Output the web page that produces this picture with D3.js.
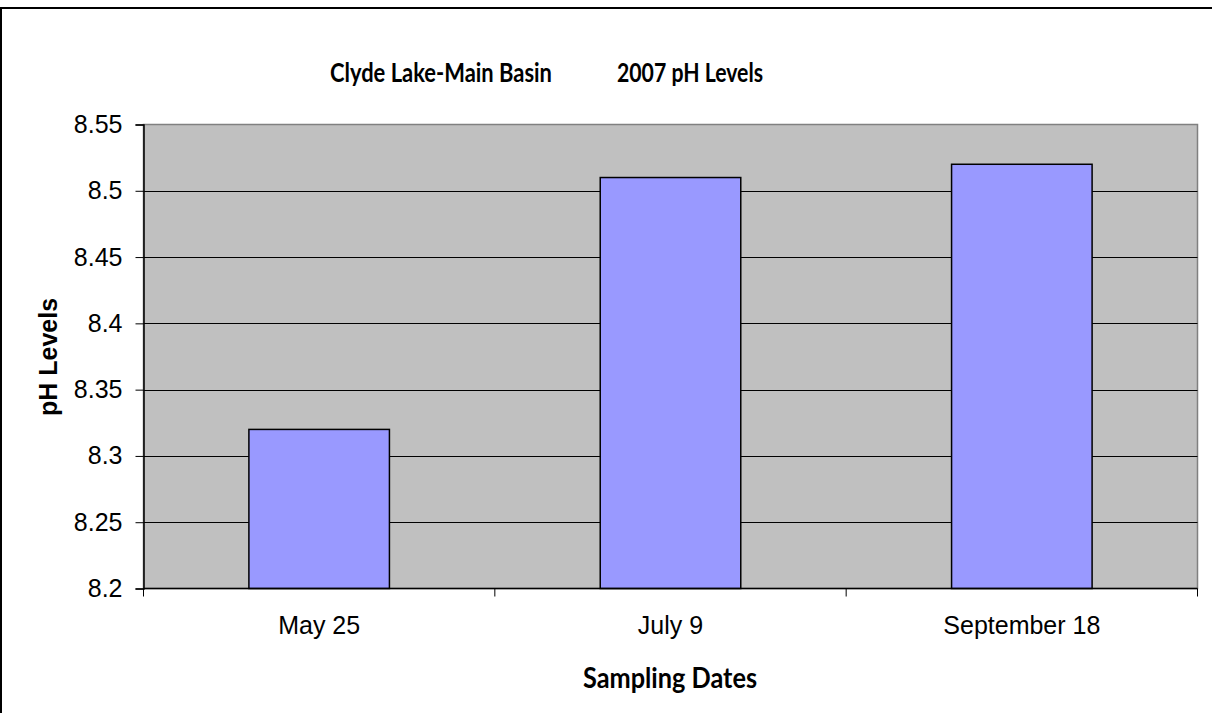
<!DOCTYPE html>
<html><head><meta charset="utf-8">
<script src="https://cdn.jsdelivr.net/npm/d3@7"></script>
<style>html,body{margin:0;padding:0;background:#fff;}svg{display:block;}</style>
</head><body>
<svg id="c" width="1212" height="713"></svg>
<script>
const categories = ["May 25", "July 9", "September 18"];
const phValues = [8.32, 8.51, 8.52];
const yTicks = [8.2, 8.25, 8.3, 8.35, 8.4, 8.45, 8.5, 8.55];
const titleLeft = "Clyde Lake-Main Basin";
const titleRight = "2007 pH Levels";
const xTitle = "Sampling Dates";
const yTitle = "pH Levels";

const svg = d3.select("#c");
const L = 143.5, R = 1197.5, T = 124.5, B = 588.5;

svg.append("rect").attr("x", 1).attr("y", 8).attr("width", 1220).attr("height", 720)
  .attr("fill", "#fff").attr("stroke", "#000").attr("stroke-width", 2);

const x = d3.scaleBand().domain(categories).range([L, R]).paddingInner(0.6).paddingOuter(0.3);
const xc = d3.scalePoint().domain(d3.range(categories.length + 1)).range([L, R]);
const y = d3.scaleLinear().domain([8.2, 8.55]).range([B, T]);

svg.append("rect").attr("x", L).attr("y", T).attr("width", R - L).attr("height", B - T)
  .attr("fill", "#C0C0C0").attr("stroke", "#808080").attr("stroke-width", 1.5);

svg.append("g").selectAll("line").data(yTicks.slice(1, -1)).join("line")
  .attr("x1", L).attr("x2", R).attr("y1", d => Math.round(y(d)) + 0.5).attr("y2", d => Math.round(y(d)) + 0.5)
  .attr("stroke", "#000").attr("stroke-width", 1);

svg.append("g").selectAll("rect").data(phValues).join("rect")
  .attr("x", (d, i) => x(categories[i]))
  .attr("y", d => y(d))
  .attr("width", x.bandwidth())
  .attr("height", d => B - y(d))
  .attr("fill", "#9999FF").attr("stroke", "#000").attr("stroke-width", 1.5);

// y axis
const ya = svg.append("g").attr("transform", `translate(${L},0)`)
  .call(d3.axisLeft(y).tickValues(yTicks).tickSize(8).tickPadding(13).tickFormat(d => String(+d.toFixed(2))));
ya.select(".domain").attr("stroke", "#000").attr("stroke-width", 1.5);
ya.selectAll(".tick line").attr("stroke", "#000");
ya.selectAll("text").attr("font-family", "Liberation Sans, Arial, sans-serif").attr("font-size", 25).attr("fill", "#000");

// x axis
const xa = svg.append("g").attr("transform", `translate(0,${B})`);
xa.append("line").attr("x1", L).attr("x2", R).attr("stroke", "#000").attr("stroke-width", 1.5);
xa.selectAll(".tk").data(d3.range(categories.length + 1)).join("line")
  .attr("x1", d => xc(d)).attr("x2", d => xc(d)).attr("y1", 0).attr("y2", 8)
  .attr("stroke", "#000");
xa.selectAll("text").data(categories).join("text")
  .attr("x", d => x(d) + x.bandwidth() / 2).attr("y", 45)
  .attr("text-anchor", "middle")
  .attr("font-family", "Liberation Sans, Arial, sans-serif").attr("font-size", 25).text(d => d);

// titles
const tg = svg.append("g").attr("font-family", "Lato, 'Open Sans', sans-serif").attr("font-weight", "bold").attr("font-size", 26);
tg.append("text").attr("x", 330).attr("y", 82).attr("textLength", 222).attr("lengthAdjust", "spacingAndGlyphs").text(titleLeft);
tg.append("text").attr("x", 617).attr("y", 82).attr("textLength", 146).attr("lengthAdjust", "spacingAndGlyphs").text(titleRight);

svg.append("text").attr("x", 583).attr("y", 688)
  .attr("textLength", 174).attr("lengthAdjust", "spacingAndGlyphs")
  .attr("font-family", "Lato, 'Open Sans', sans-serif").attr("font-weight", "bold").attr("font-size", 28).text(xTitle);

svg.append("text").attr("transform", `translate(57,357) rotate(-90)`).attr("text-anchor", "middle")
  .attr("font-family", "Liberation Sans, Arial, sans-serif").attr("font-weight", "bold").attr("font-size", 25).text(yTitle);
</script>
</body></html>
